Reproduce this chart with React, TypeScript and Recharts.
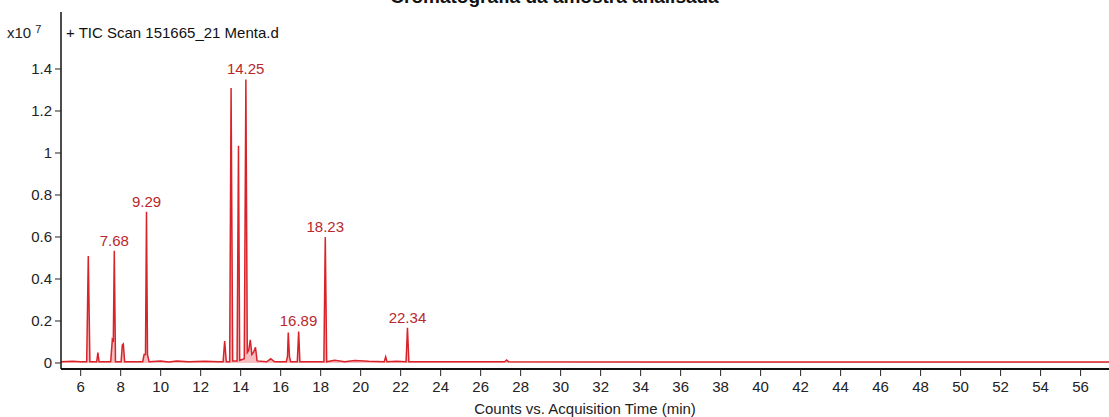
import React from 'react';
import {
  AreaChart,
  Area,
  XAxis,
  YAxis,
  ReferenceDot,
  Label,
} from 'recharts';

// retention time (min) and TIC counts (x10^7)
const times = [
  5.02, 5.6, 6.0, 6.3, 6.38, 6.46, 6.8, 6.86, 6.92, 7.5, 7.58, 7.63, 7.68, 7.74,
  8.02, 8.08, 8.13, 8.2, 9.1, 9.17, 9.24, 9.29, 9.34, 9.42, 10.0, 10.4, 10.8, 11.4,
  12.2, 12.9, 13.12, 13.2, 13.28, 13.45, 13.52, 13.6, 13.82, 13.89, 13.95, 14.18,
  14.26, 14.33, 14.4, 14.48, 14.56, 14.64, 14.74, 14.82, 15.3, 15.5, 15.7, 16.28,
  16.34, 16.38, 16.44, 16.5, 16.83, 16.9, 16.96, 17.6, 18.16, 18.23, 18.3, 18.7,
  19.2, 19.7, 20.4, 21.18, 21.25, 21.32, 21.8, 22.27, 22.34, 22.41, 24.0, 27.2,
  27.3, 27.4, 35.0, 45.0, 57.42,
];
const counts = [
  0.006, 0.008, 0.006, 0.006, 0.51, 0.006, 0.006, 0.05, 0.006, 0.006, 0.11, 0.1, 0.535, 0.006,
  0.006, 0.085, 0.09, 0.006, 0.006, 0.04, 0.04, 0.72, 0.04, 0.006, 0.009, 0.005, 0.009, 0.006,
  0.008, 0.006, 0.006, 0.105, 0.006, 0.006, 1.31, 0.01, 0.01, 1.035, 0.012, 0.02,
  1.35, 0.05, 0.06, 0.11, 0.04, 0.05, 0.075, 0.01, 0.006, 0.02, 0.006, 0.006,
  0.03, 0.145, 0.03, 0.006, 0.006, 0.15, 0.006, 0.006, 0.006, 0.6, 0.006, 0.013,
  0.006, 0.012, 0.008, 0.006, 0.03, 0.006, 0.008, 0.006, 0.168, 0.006, 0.006, 0.006,
  0.014, 0.006, 0.005, 0.005, 0.005,
];

const labelTimes = [7.68, 9.29, 14.25, 16.89, 18.23, 22.34];
const labelHeights = [0.535, 0.72, 1.35, 0.15, 0.6, 0.168];

const xTicks = [6, 8, 10, 12, 14, 16, 18, 20, 22, 24, 26, 28, 30, 32, 34, 36, 38, 40, 42, 44, 46, 48, 50, 52, 54, 56];
const yTicks = [0, 0.2, 0.4, 0.6, 0.8, 1, 1.2, 1.4];

const data = times.map((t, i) => ({ t, c: counts[i] }));

const tickStyle = { fill: '#222', fontSize: 15, fontFamily: 'Liberation Sans, Arial, sans-serif' };

export default function App() {
  return (
    <div style={{ position: 'absolute', left: 0, top: 0, width: 1109, height: 417, background: '#fff', overflow: 'hidden', fontFamily: 'Liberation Sans, Arial, sans-serif' }}>
      <div style={{ position: 'absolute', left: 0, width: 1109, top: -13, textAlign: 'center', fontSize: 19, fontWeight: 700, lineHeight: '19px', color: '#111' }}>
        Cromatografia da amostra analisada
      </div>
      <div style={{ position: 'absolute', left: 7, top: 24, fontSize: 15, lineHeight: '17px', color: '#222' }}>
        x10 <sup style={{ fontSize: 11, verticalAlign: 'top', position: 'relative', top: -3 }}>7</sup>
      </div>
      <div style={{ position: 'absolute', left: 66, top: 24, fontSize: 15, lineHeight: '17px', color: '#111' }}>
        + TIC Scan 151665_21 Menta.d
      </div>
      <AreaChart width={1109} height={417} data={data} margin={{ top: 12, right: 0, bottom: 0, left: 0 }}>
        <XAxis
          xAxisId="top"
          orientation="top"
          dataKey="t"
          type="number"
          domain={[5.015, 57.415]}
          height={0}
          tick={false}
          tickLine={false}
          axisLine={{ stroke: '#888', strokeWidth: 2 }}
        />
        <XAxis
          dataKey="t"
          type="number"
          domain={[5.015, 57.415]}
          ticks={xTicks}
          height={48}
          tickSize={7}
          tickMargin={5}
          tick={tickStyle}
          tickLine={{ stroke: '#222' }}
          axisLine={{ stroke: '#111', strokeWidth: 2 }}
        >
          <Label value="Counts vs. Acquisition Time (min)" position="insideBottom" offset={3} style={{ ...tickStyle, fontSize: 15 }} />
        </XAxis>
        <YAxis
          type="number"
          domain={[-0.0286, 1.6714]}
          ticks={yTicks}
          width={61}
          tickSize={6}
          tickMargin={3}
          tick={tickStyle}
          tickLine={{ stroke: '#222' }}
          axisLine={{ stroke: '#111', strokeWidth: 1.5 }}
          tickFormatter={(v: number) => String(v)}
        />
        <Area
          type="linear"
          dataKey="c"
          stroke="#d8232a"
          strokeWidth={1.5}
          fill="#f2a3a6"
          fillOpacity={0.7}
          baseValue={0}
          isAnimationActive={false}
          dot={false}
          activeDot={false}
        />
        {labelTimes.map((t, i) => (
          <ReferenceDot
            key={t}
            x={t}
            y={labelHeights[i]}
            r={0}
            stroke="none"
            label={{ value: t.toFixed(2), position: 'top', offset: 5, fill: '#b8282d', fontSize: 15, fontFamily: 'Liberation Sans, Arial, sans-serif' }}
          />
        ))}
      </AreaChart>
    </div>
  );
}
